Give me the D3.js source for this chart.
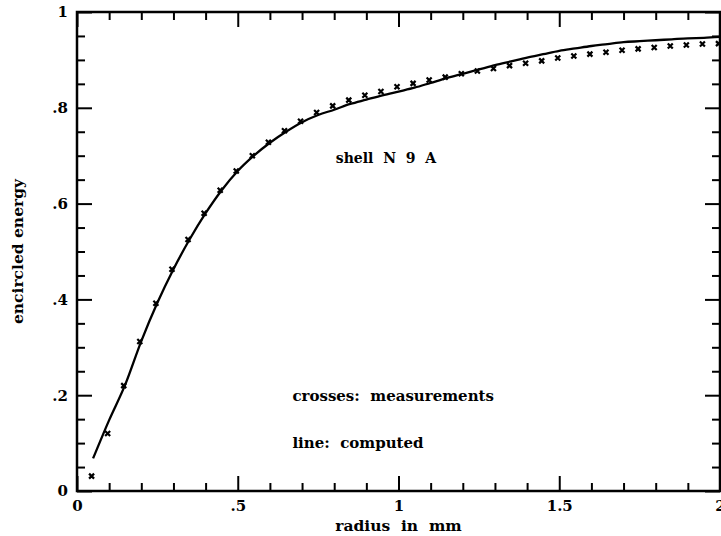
<!DOCTYPE html>
<html>
<head>
<meta charset="utf-8">
<script src="https://cdn.jsdelivr.net/npm/d3@7"></script>
<style>
  html, body { margin: 0; padding: 0; background: #fff; }
  svg text { font-family: "DejaVu Serif", serif; font-weight: bold; fill: #000; white-space: pre; }
</style>
</head>
<body>
<svg width="721" height="536"></svg>
<script>
(function () {
    'use strict'

    // radius (mm) of each sample
    const radius = [0.05, 0.1, 0.15, 0.2, 0.25, 0.3, 0.35, 0.4, 0.45, 0.5,
        0.55, 0.6, 0.65, 0.7, 0.75, 0.8, 0.85, 0.9, 0.95, 1.0,
        1.05, 1.1, 1.15, 1.2, 1.25, 1.3, 1.35, 1.4, 1.45, 1.5,
        1.55, 1.6, 1.65, 1.7, 1.75, 1.8, 1.85, 1.9, 1.95, 2.0];

    // crosses: measurements
    const measured = [0.031, 0.120, 0.220, 0.312, 0.392, 0.463, 0.525, 0.580, 0.628, 0.668,
        0.700, 0.728, 0.752, 0.772, 0.790, 0.804, 0.816, 0.826, 0.834, 0.844,
        0.851, 0.858, 0.864, 0.871, 0.877, 0.882, 0.888, 0.893, 0.898, 0.904,
        0.908, 0.912, 0.916, 0.920, 0.923, 0.926, 0.929, 0.931, 0.933, 0.934];

    // line: computed
    const computed = [0.068, 0.148, 0.222, 0.313, 0.393, 0.463, 0.525, 0.580, 0.628, 0.668,
        0.700, 0.727, 0.750, 0.770, 0.785, 0.796, 0.808, 0.817, 0.826, 0.834,
        0.842, 0.852, 0.862, 0.871, 0.880, 0.889, 0.897, 0.905, 0.912, 0.919,
        0.924, 0.929, 0.933, 0.937, 0.939, 0.941, 0.943, 0.945, 0.946, 0.948];

    const xTicks = [0, 0.5, 1, 1.5, 2];
    const yTicks = [0, 0.2, 0.4, 0.6, 0.8, 1];

    const svg = d3.select('svg'),
        margin = { top: 12, right: 1, bottom: 45, left: 77 },
        width = +svg.attr('width') - margin.left - margin.right,
        height = +svg.attr('height') - margin.top - margin.bottom,
        g = svg.append('g').attr('transform', 'translate(' + margin.left + ',' + margin.top + ')');

    const x = d3.scaleLinear().domain([0, 2]).range([0, width]);
    const y = d3.scaleLinear().domain([0, 1]).range([height, 0]);

    // ".8" style labels, no leading zero
    const fmt = d => String(d).replace(/^0\./, '.');

    const MAJOR = 15, MINOR = 8;
    const xMinor = d3.range(0, 2.0001, 0.1).filter(v => Math.abs(v * 2 - Math.round(v * 2)) > 1e-6);
    const yMinor = d3.range(0, 1.0001, 0.05).filter(v => Math.abs(v * 5 - Math.round(v * 5)) > 1e-6);

    function styleAxis(sel) {
        sel.select('.domain').remove();
        sel.selectAll('line').attr('stroke', '#000').attr('stroke-width', 2);
        sel.selectAll('text').style('font-size', '15px');
    }

    // bottom (labelled) and top
    g.append('g').attr('transform', 'translate(0,' + height + ')')
        .call(d3.axisBottom(x).tickValues(xTicks).tickFormat(fmt).tickSizeInner(-MAJOR).tickSizeOuter(0).tickPadding(9))
        .call(styleAxis);
    g.append('g').attr('transform', 'translate(0,' + height + ')')
        .call(d3.axisBottom(x).tickValues(xMinor).tickFormat('').tickSizeInner(-MINOR).tickSizeOuter(0))
        .call(styleAxis);
    g.append('g')
        .call(d3.axisTop(x).tickValues(xTicks).tickFormat('').tickSizeInner(-MAJOR).tickSizeOuter(0))
        .call(styleAxis);
    g.append('g')
        .call(d3.axisTop(x).tickValues(xMinor).tickFormat('').tickSizeInner(-MINOR).tickSizeOuter(0))
        .call(styleAxis);

    // left (labelled) and right
    g.append('g')
        .call(d3.axisLeft(y).tickValues(yTicks).tickFormat(fmt).tickSizeInner(-MAJOR).tickSizeOuter(0).tickPadding(9))
        .call(styleAxis);
    g.append('g')
        .call(d3.axisLeft(y).tickValues(yMinor).tickFormat('').tickSizeInner(-MINOR).tickSizeOuter(0))
        .call(styleAxis);
    g.append('g').attr('transform', 'translate(' + width + ',0)')
        .call(d3.axisRight(y).tickValues(yTicks).tickFormat('').tickSizeInner(-MAJOR).tickSizeOuter(0))
        .call(styleAxis);
    g.append('g').attr('transform', 'translate(' + width + ',0)')
        .call(d3.axisRight(y).tickValues(yMinor).tickFormat('').tickSizeInner(-MINOR).tickSizeOuter(0))
        .call(styleAxis);

    // frame
    g.append('rect')
        .attr('width', width).attr('height', height)
        .attr('fill', 'none').attr('stroke', '#000').attr('stroke-width', 2.5);

    // computed line
    const line = d3.line()
        .x((d, i) => x(radius[i]))
        .y(d => y(d))
        .curve(d3.curveMonotoneX);

    g.append('path')
        .datum(computed)
        .attr('fill', 'none')
        .attr('stroke', '#000')
        .attr('stroke-width', 2.3)
        .attr('d', line);

    // measurement crosses
    const s = 2.5;
    g.selectAll('.cross')
        .data(measured)
        .enter()
        .append('path')
        .attr('class', 'cross')
        .attr('transform', (d, i) => 'translate(' + (x(radius[i]) - 1.5) + ',' + y(d) + ')')
        .attr('d', 'M' + -s + ',' + -s + 'L' + s + ',' + s + 'M' + -s + ',' + s + 'L' + s + ',' + -s)
        .attr('stroke', '#000')
        .attr('stroke-width', 2.2);

    // axis titles
    svg.append('text')
        .attr('x', margin.left + width / 2)
        .attr('y', 531)
        .attr('text-anchor', 'middle')
        .style('font-size', '15.5px')
        .text('radius  in  mm');

    svg.append('text')
        .attr('transform', 'translate(23,' + (margin.top + height / 2) + ') rotate(-90)')
        .attr('text-anchor', 'middle')
        .style('font-size', '15.5px')
        .text('encircled energy');

    // annotations
    const notes = [
        { t: 'shell  N  9  A', rx: 0.805, ry: 0.685, fs: 14 },
        { t: 'crosses:  measurements', rx: 0.67, ry: 0.188, fs: 15 },
        { t: 'line:  computed', rx: 0.67, ry: 0.09, fs: 15 }
    ];
    g.selectAll('.note')
        .data(notes)
        .enter()
        .append('text')
        .attr('class', 'note')
        .attr('x', d => x(d.rx))
        .attr('y', d => y(d.ry))
        .style('font-size', d => d.fs + 'px')
        .text(d => d.t);
})();
</script>
</body>
</html>
